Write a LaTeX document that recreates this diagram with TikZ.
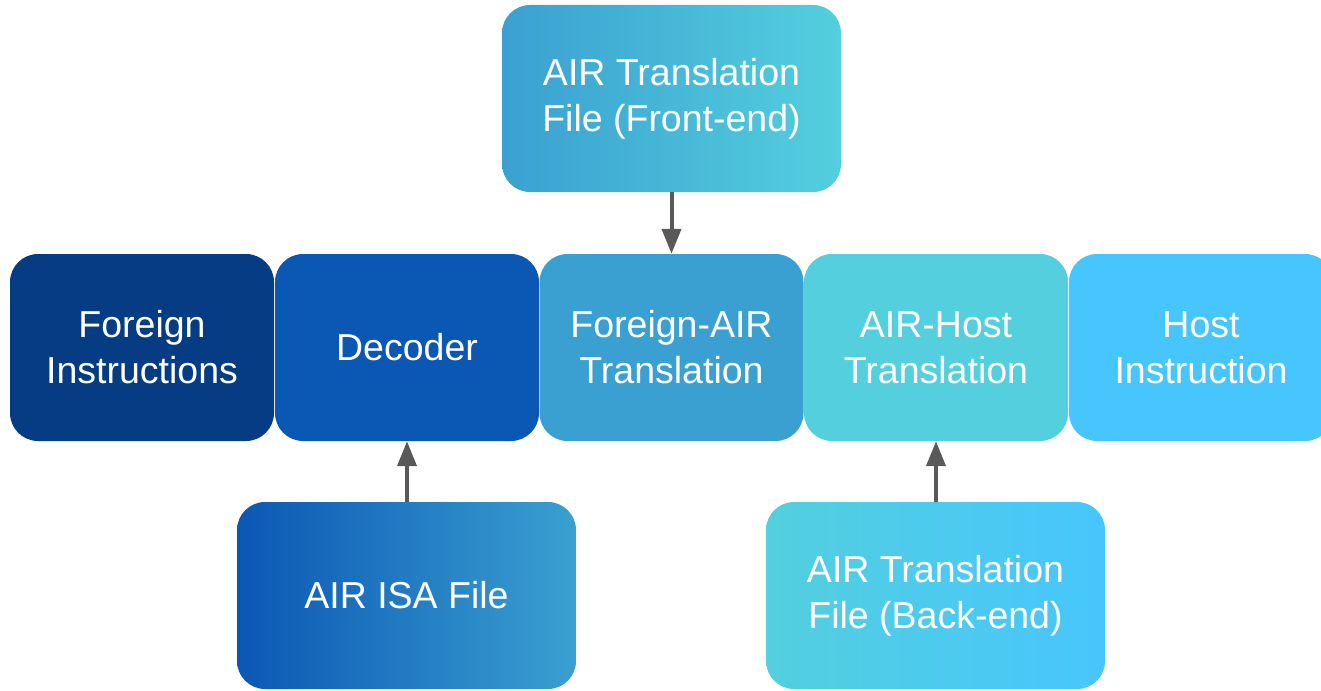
\documentclass[tikz,border=0pt]{standalone}
\usepackage{fontspec}
\setmainfont{Liberation Sans}
\usetikzlibrary{arrows.meta}
\definecolor{cA}{HTML}{053C84}
\definecolor{cB}{HTML}{0B57B4}
\definecolor{cC}{HTML}{3AA0D1}
\definecolor{cD}{HTML}{53CFDE}
\definecolor{cE}{HTML}{47C6FD}
\definecolor{arr}{HTML}{595959}
\tikzset{
  box/.style={rounded corners=28pt, minimum width=264pt, minimum height=187pt,
    inner sep=0pt, text=white, align=center, font=\fontsize{37.5}{46}\selectfont},
  widebox/.style={box, minimum width=339pt},
  conn/.style={draw=arr, line width=4pt, -{Triangle[length=25pt,width=19pt]}}
}
\begin{document}
\begin{tikzpicture}[x=1pt,y=-1pt]
\useasboundingbox (0,0) rectangle (1321,690);
\clip (0,0) rectangle (1321,690);
\node[box, fill=cA] (fi) at (142,347.5) {Foreign\\Instructions};
\node[box, fill=cB] (dec) at (407,347.5) {Decoder};
\node[box, fill=cC] (fat) at (671.5,347.5) {Foreign-AIR\\Translation};
\node[box, fill=cD] (aht) at (936,347.5) {AIR-Host\\Translation};
\node[box, fill=cE] (hi) at (1201,347.5) {Host\\Instruction};
\node[widebox, left color=cC, right color=cD] (fe) at (671.5,98.5) {AIR Translation\\File (Front-end)};
\node[widebox, left color=cB, right color=cC] (isa) at (406.5,595.5) {AIR ISA File};
\node[widebox, left color=cD, right color=cE] (be) at (935.5,595.5) {AIR Translation\\File (Back-end)};
\draw[conn] (fe.south) -- (fat.north);
\draw[conn] (isa.north -| dec.south) -- (dec.south);
\draw[conn] (be.north -| aht.south) -- (aht.south);
\end{tikzpicture}
\end{document}
